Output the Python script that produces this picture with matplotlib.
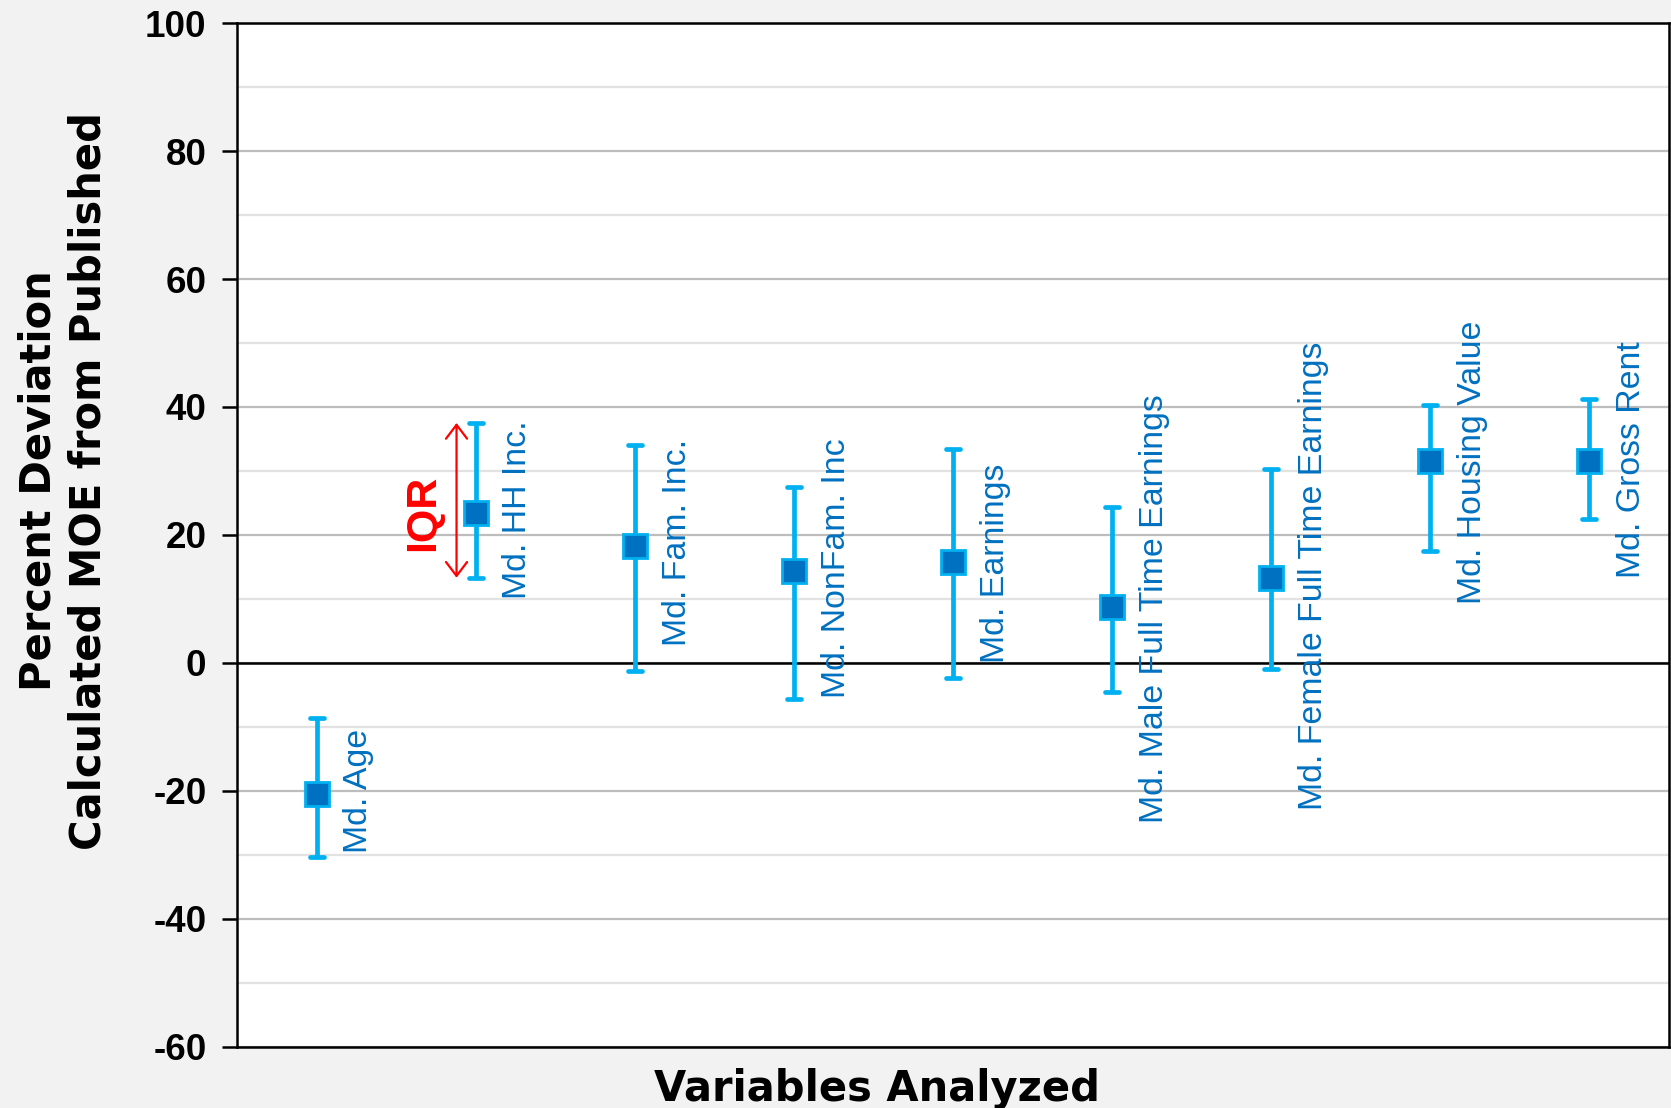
import matplotlib.pyplot as plt
from matplotlib.markers import MarkerStyle
from matplotlib.ticker import MultipleLocator
import numpy as np

plt.rcParams['axes.unicode_minus'] = False

# median percent deviation and the interquartile range for each variable
variables = ['Md. Age', 'Md. HH Inc.', 'Md. Fam. Inc.', 'Md. NonFam. Inc', 'Md. Earnings',
             'Md. Male Full Time Earnings', 'Md. Female Full Time Earnings',
             'Md. Housing Value', 'Md. Gross Rent']
median = [-20.5, 23.5, 18.2, 14.3, 15.7, 8.7, 13.2, 31.5, 31.5]
q_low = [-30.3, 13.3, -1.3, -5.7, -2.3, -4.5, -1.0, 17.5, 22.5]
q_high = [-8.7, 37.5, 34.0, 27.5, 33.5, 24.3, 30.3, 40.3, 41.3]

# where each rotated label starts (y, data units)
label_start = [-29.7, 10.0, 2.7, -5.5, 0.0, -25.0, -23.0, 9.2, 13.3]

yticks = [-60, -40, -20, 0, 20, 40, 60, 80, 100]

DARK = '#0070C0'
LIGHT = '#00B0F0'

fig = plt.figure(figsize=(16.71, 11.08), dpi=100, facecolor='#F2F2F2')
ax = fig.add_axes([0.1418, 0.0555, 0.857, 0.9235])
ax.set_facecolor('white')

x = np.arange(len(variables)) + 0.5
med = np.array(median)
err = [med - np.array(q_low), np.array(q_high) - med]

ax.set_xlim(0, len(variables))
ax.set_ylim(-60, 100)

# grid: major every 20, minor every 10, black zero line
ax.yaxis.set_major_locator(MultipleLocator(20))
ax.yaxis.set_minor_locator(MultipleLocator(10))
ax.set_yticks(yticks)
ax.grid(axis='y', which='major', color='#BDBDBD', lw=1.6, zorder=0)
ax.grid(axis='y', which='minor', color='#E2E2E2', lw=1.6, zorder=0)
ax.axhline(0, color='black', lw=1.8, zorder=1)
ax.set_axisbelow(True)

_, caps, _ = ax.errorbar(x, med, yerr=err, fmt='none', ecolor=LIGHT, elinewidth=3.4,
                         capsize=5, capthick=3.4, zorder=3)
for c in caps:
    c.set_marker(MarkerStyle('_', capstyle='round'))
ax.plot(x, med, ls='none', marker='s', markersize=17, markerfacecolor=DARK,
        markeredgecolor=LIGHT, markeredgewidth=2, zorder=4)

for xi, ys, name in zip(x, label_start, variables):
    ax.annotate(name, xy=(xi, ys), xytext=(30.5, 0), textcoords='offset points',
                rotation=90, ha='center', va='bottom', color=DARK,
                fontsize=24.4, family='Liberation Sans')

# IQR marker beside the household income bar
k = 1
ax.annotate('', xy=(x[k] - 0.12, q_high[k]), xytext=(x[k] - 0.12, q_low[k]),
            arrowprops=dict(arrowstyle='<->,head_length=0.5,head_width=0.38',
                            color='red', lw=1.6, mutation_scale=20,
                            shrinkA=0, shrinkB=0), zorder=5)
ax.text(x[k] - 0.33, median[k], 'IQR', rotation=90, ha='center', va='center',
        color='red', fontsize=31, fontweight='bold', family='Liberation Sans')

for s in ax.spines.values():
    s.set_color('black')
    s.set_linewidth(1.8)

ax.set_xticks([])
ax.tick_params(axis='y', which='major', length=11, width=1.8, pad=11,
               labelsize=26.5)
ax.tick_params(axis='y', which='minor', length=0)
for lab in ax.get_yticklabels():
    lab.set_fontweight('bold')
    lab.set_family('Liberation Sans')

fig.text(0.038, 0.566, 'Percent Deviation\nCalculated MOE from Published',
         rotation=90, ha='center', va='center', multialignment='center',
         fontsize=30, fontweight='bold', family='DejaVu Sans', linespacing=1.22)
fig.text(0.525, 0.0063, 'Variables Analyzed', ha='center', va='baseline',
         fontsize=30, fontweight='bold', family='DejaVu Sans')

fig.savefig('out.png', dpi=100, facecolor=fig.get_facecolor())
